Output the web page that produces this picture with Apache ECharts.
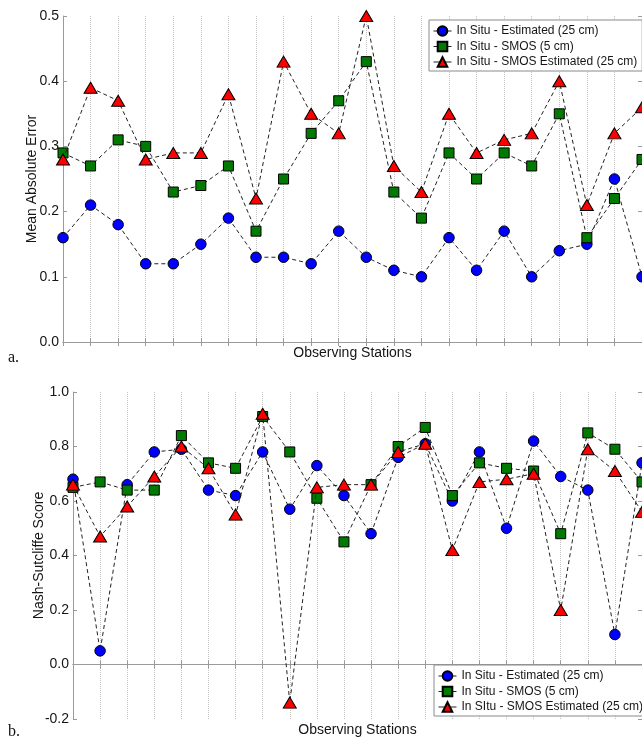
<!DOCTYPE html>
<html><head><meta charset="utf-8">
<script src="https://cdn.jsdelivr.net/npm/echarts@6/dist/echarts.min.js"></script>
<style>html,body{margin:0;padding:0;background:#fff}#c{width:642px;height:741px}</style>
</head><body><div id="c"></div>
<script>
// ---- data ----
const stations = ['S1','S2','S3','S4','S5','S6','S7','S8','S9','S10','S11','S12','S13','S14','S15','S16','S17','S18','S19','S20','S21','S22'];

const namesTop = ['In Situ - Estimated (25 cm)', 'In Situ - SMOS (5 cm)', 'In Situ - SMOS Estimated (25 cm)'];
const namesBottom = ['In Situ - Estimated (25 cm)', 'In Situ - SMOS (5 cm)', 'In SItu - SMOS Estimated (25 cm)'];

const maeEstimated = [0.16,0.21,0.18,0.12,0.12,0.15,0.19,0.13,0.13,0.12,0.17,0.13,0.11,0.10,0.16,0.11,0.17,0.10,0.14,0.15,0.25,0.10];
const maeSmos      = [0.29,0.27,0.31,0.30,0.23,0.24,0.27,0.17,0.25,0.32,0.37,0.43,0.23,0.19,0.29,0.25,0.29,0.27,0.35,0.16,0.22,0.28];
const maeSmosEst   = [0.28,0.39,0.37,0.28,0.29,0.29,0.38,0.22,0.43,0.35,0.32,0.50,0.27,0.23,0.35,0.29,0.31,0.32,0.40,0.21,0.32,0.36];

const nseEstimated = [0.68,0.05,0.66,0.78,0.79,0.64,0.62,0.78,0.57,0.73,0.62,0.48,0.76,0.81,0.60,0.78,0.50,0.82,0.69,0.64,0.11,0.74];
const nseSmos      = [0.65,0.67,0.64,0.64,0.84,0.74,0.72,0.91,0.78,0.61,0.45,0.66,0.80,0.87,0.62,0.74,0.72,0.71,0.48,0.85,0.79,0.67];
const nseSmosEst   = [0.66,0.47,0.58,0.69,0.80,0.72,0.55,0.92,-0.14,0.65,0.66,0.66,0.78,0.81,0.42,0.67,0.68,0.70,0.20,0.79,0.71,0.56];

const maeAxis = {min: 0, max: 0.5, interval: 0.1, title: 'Mean Absolute Error'};
const nseAxis = {min: -0.2, max: 1.0, interval: 0.2, title: 'Nash-Sutcliffe Score'};
const xTitle = 'Observing Stations';

// ---- chart ----
const FONT = '"Liberation Sans", Arial, sans-serif';
const AXIS_COLOR = '#9a9a9a';
const TEXT = '#151515';

function xBottom(gi, gap) {
  return {
    type: 'category', gridIndex: gi, data: stations, boundaryGap: false, position: 'bottom',
    axisLine: {show: true, lineStyle: {color: AXIS_COLOR, width: 1}},
    axisTick: {show: true, inside: true, length: 4, interval: 0, lineStyle: {color: AXIS_COLOR}},
    axisLabel: {show: false},
    splitLine: {show: true, interval: 0, lineStyle: {color: '#c4c4c4', type: 'dotted', width: 1}},
    name: xTitle, nameLocation: 'middle', nameGap: gap, nameMoveOverlap: false,
    nameTextStyle: {fontFamily: FONT, fontSize: 14, color: TEXT}
  };
}
function xTop(gi) {
  return {
    type: 'category', gridIndex: gi, data: stations, boundaryGap: false, position: 'top',
    axisLine: {show: true, lineStyle: {color: AXIS_COLOR, width: 1}},
    axisTick: {show: true, inside: true, length: 4, interval: 0, lineStyle: {color: AXIS_COLOR}},
    axisLabel: {show: false}, splitLine: {show: false}
  };
}
function yLeft(gi, ax, gap) {
  return {
    type: 'value', gridIndex: gi, position: 'left', min: ax.min, max: ax.max, interval: ax.interval,
    axisLine: {show: true, lineStyle: {color: AXIS_COLOR, width: 1}},
    axisTick: {show: true, inside: true, length: 4, lineStyle: {color: AXIS_COLOR}},
    axisLabel: {show: true, margin: 4, fontFamily: FONT, fontSize: 14, color: TEXT,
      formatter: v => (Math.abs(v) < 1e-9 ? 0 : v).toFixed(1)},
    splitLine: {show: false},
    name: ax.title, nameLocation: 'middle', nameGap: gap, nameMoveOverlap: false,
    nameTextStyle: {fontFamily: FONT, fontSize: 14, color: TEXT}
  };
}
function yRight(gi, ax) {
  return {
    type: 'value', gridIndex: gi, position: 'right', min: ax.min, max: ax.max, interval: ax.interval,
    axisLine: {show: true, lineStyle: {color: AXIS_COLOR, width: 1}},
    axisTick: {show: true, inside: true, length: 4, lineStyle: {color: AXIS_COLOR}},
    axisLabel: {show: false}, splitLine: {show: false}
  };
}
const styles = [
  {symbol: 'circle', symbolSize: 10.5, color: '#0000ff'},
  {symbol: 'rect', symbolSize: 10, color: '#007a00'},
  {symbol: 'triangle', symbolSize: [13, 11], color: '#ff0000'}
];
function mkSeries(name, data, k, xi, yi) {
  const s = styles[k];
  return {
    type: 'line', name, data, xAxisIndex: xi, yAxisIndex: yi,
    symbol: s.symbol, symbolSize: s.symbolSize, showSymbol: true, showAllSymbol: true,
    itemStyle: {color: s.color, borderColor: '#000', borderWidth: 1},
    lineStyle: {color: '#222', width: 1, type: [4, 3]},
    emphasis: {disabled: true}, animation: false, z: 2 + k
  };
}
function mkLegend(names, left, top) {
  return {
    orient: 'vertical', left, top, data: names,
    padding: [5, 5, 3, 4], itemWidth: 18, itemHeight: 12, itemGap: 3.5,
    backgroundColor: '#fff', borderColor: '#8a8a8a', borderWidth: 1, borderRadius: 0,
    textStyle: {fontFamily: FONT, fontSize: 12, color: TEXT},
    lineStyle: {type: 'solid', width: 1, color: '#222'},
    selectedMode: false
  };
}

const chart = echarts.init(document.getElementById('c'), null, {renderer: 'canvas'});
chart.setOption({
  animation: false,
  backgroundColor: '#fff',
  grid: [
    {left: 63, top: 16, width: 581, height: 326},
    {left: 73, top: 392, width: 571, height: 327}
  ],
  xAxis: [xBottom(0, 4), xTop(0), xBottom(1, 4), xTop(1)],
  yAxis: [yLeft(0, maeAxis, 24), yRight(0, maeAxis), yLeft(1, nseAxis, 27), yRight(1, nseAxis)],
  legend: [mkLegend(namesTop, 429, 20), mkLegend(namesBottom, 434, 665)],
  series: [
    mkSeries(namesTop[0], maeEstimated, 0, 0, 0),
    mkSeries(namesTop[1], maeSmos, 1, 0, 0),
    mkSeries(namesTop[2], maeSmosEst, 2, 0, 0),
    mkSeries(namesBottom[0], nseEstimated, 0, 2, 2),
    mkSeries(namesBottom[1], nseSmos, 1, 2, 2),
    mkSeries(namesBottom[2], nseSmosEst, 2, 2, 2)
  ],
  graphic: [
    {type: 'text', left: 8, top: 350, style: {text: 'a.', font: '16px "Liberation Serif", "Times New Roman", serif', fill: '#111'}},
    {type: 'text', left: 8, top: 724, style: {text: 'b.', font: '16px "Liberation Serif", "Times New Roman", serif', fill: '#111'}}
  ]
});
</script></body></html>
